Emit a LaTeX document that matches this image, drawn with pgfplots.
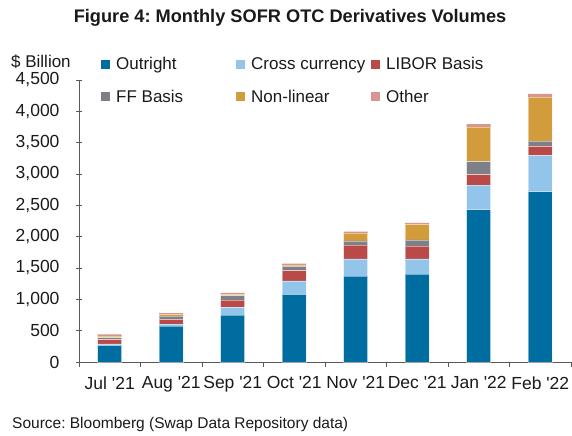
\documentclass[border=0pt]{standalone}
\usepackage{fontspec}
\setmainfont{Liberation Sans}
\usepackage{pgfplots}
\pgfplotsset{compat=1.18}
\definecolor{cOut}{HTML}{006DA0}
\definecolor{cCross}{HTML}{93C5EA}
\definecolor{cLib}{HTML}{BA4A48}
\definecolor{cFF}{HTML}{7F7F87}
\definecolor{cNL}{HTML}{D29B3C}
\definecolor{cOth}{HTML}{D8968E}
\definecolor{txt}{HTML}{1A1A1A}
\definecolor{axc}{HTML}{595959}
\newcommand\ap{\textquotesingle}
\frenchspacing
\begin{document}
\frenchspacing
\begin{tikzpicture}
\useasboundingbox (0,0) rectangle (572bp,436bp);
\node[anchor=center, font=\fontsize{18.2bp}{21bp}\selectfont\bfseries, text=txt] at (290bp,418bp) {Figure 4: Monthly SOFR OTC Derivatives Volumes};
\node[anchor=west, font=\fontsize{17bp}{20bp}\selectfont, text=txt, inner sep=0pt] at (11bp,374bp) {\$ Billion};
\node[anchor=west, font=\fontsize{15.5bp}{18bp}\selectfont, text=txt, inner sep=0pt] at (12bp,12bp) {Source: Bloomberg (Swap Data Repository data)};
\begin{axis}[
  at={(79bp,74bp)}, anchor=south west,
  scale only axis, width=492bp, height=282bp,
  xmin=-0.5, xmax=7.5, ymin=0, ymax=4500,
  ybar stacked, bar width=24bp,
  axis x line*=bottom, axis y line*=left,
  axis line style={draw=axc, line width=0.9bp},
  every tick/.style={draw=axc, line width=0.9bp},
  xtick={0,...,7},
  xticklabels={Jul \ap21, Aug \ap21, Sep \ap21, Oct \ap21, Nov \ap21, Dec \ap21, Jan \ap22, Feb \ap22},
  major x tick style={draw=none},
  minor xtick={-0.5,0.5,...,7.5},
  xtick align=outside,
  minor tick length=5bp,
  ytick={0,500,...,4500},
  ytick align=center, major tick length=6bp,
  scaled y ticks=false,
  /pgf/number format/1000 sep={,},
  /pgf/number format/assume math mode=true,
  ticklabel style={font=\fontsize{17.5bp}{20bp}\selectfont, text=txt},
  yticklabel style={xshift=-13bp},
  xticklabel style={yshift=-5bp},
  clip=false,
  legend columns=3,
  legend style={at={(axis description cs:0.0447,0.998)}, anchor=west, draw=none, fill=none,
    font=\fontsize{17bp}{20bp}\selectfont, text=txt,
    /tikz/every even column/.append style={column sep=0pt},
    /tikz/every odd column/.append style={column sep=4bp},
    row sep=15bp, inner sep=0pt, cells={anchor=west}},
  legend image code/.code={\fill[#1,draw=none] (0bp,-4.5bp) rectangle (9bp,4.5bp);},
  every axis plot/.append style={draw=white, draw opacity=0.45, line width=0.5bp},
]
\addplot[fill=cOut] coordinates {(0,267) (1,572) (2,749) (3,1080) (4,1369) (5,1401) (6,2433) (7,2717)};
\addplot[fill=cCross] coordinates {(0,22) (1,32) (2,123) (3,214) (4,278) (5,246) (6,391) (7,577)};
\addplot[fill=cLib] coordinates {(0,69) (1,75) (2,117) (3,166) (4,219) (5,203) (6,166) (7,145)};
\addplot[fill=cFF] coordinates {(0,32) (1,54) (2,70) (3,64) (4,65) (5,97) (6,208) (7,85)};
\addplot[fill=cNL] coordinates {(0,27) (1,26) (2,21) (3,22) (4,128) (5,251) (6,551) (7,701)};
\addplot[fill=cOth, draw=none] coordinates {(0,22) (1,22) (2,22) (3,22) (4,22) (5,22) (6,48) (7,53)};
\legend{\makebox[118bp][l]{Outright},\makebox[118bp][l]{Cross currency},\makebox[100bp][l]{LIBOR Basis},\makebox[118bp][l]{FF Basis},\makebox[118bp][l]{Non-linear},\makebox[100bp][l]{Other}}
\end{axis}
\end{tikzpicture}
\end{document}
